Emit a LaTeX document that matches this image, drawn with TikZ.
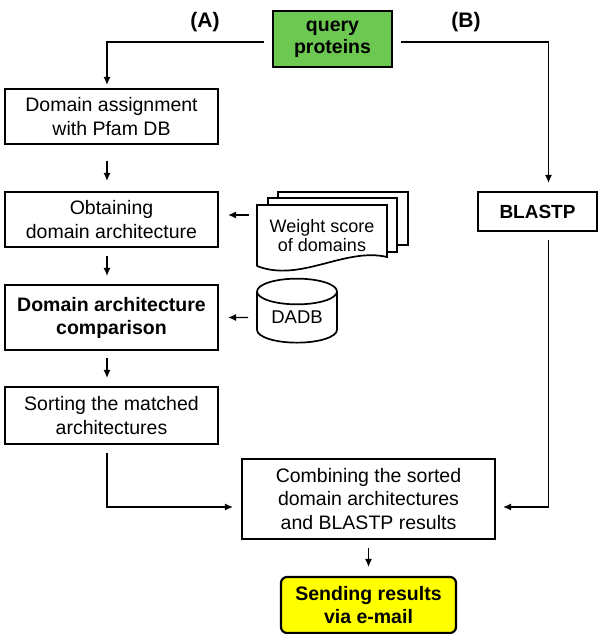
\documentclass[tikz,border=0pt]{standalone}
\usepackage{fontspec}
\setmainfont{Liberation Sans}
\usetikzlibrary{arrows.meta,shapes.geometric}
\definecolor{querygreen}{RGB}{108,200,80}
\definecolor{sendyellow}{RGB}{255,255,0}

\tikzset{
  procbox/.style={draw, line width=2.2pt, align=center, inner sep=0pt,
    minimum width=213pt, minimum height=55pt,
    font=\fontsize{19.5}{23.5}\selectfont},
  boldbox/.style={procbox, font=\fontsize{19.5}{23}\selectfont\bfseries},
  arr/.style={-{Latex[length=8pt,width=7pt]}, line width=1.2pt},
  sheet/.style={draw, fill=white, line width=1.7pt},
}

\begin{document}
\begin{tikzpicture}[x=1pt,y=-1pt]
      \useasboundingbox (0,0) rectangle (600,634);

      \node[font=\fontsize{21}{21}\selectfont\bfseries] (labA) at (205,22) {(A)};
      \node[font=\fontsize{21}{21}\selectfont\bfseries] (labB) at (466,22) {(B)};

      \node[boldbox, fill=querygreen, minimum width=119pt, minimum height=56pt,
        font=\fontsize{19.5}{22}\selectfont\bfseries] (query) at (332.5,39) {query\\proteins};

      \node[procbox] (assign) at (111.5,116.5) {Domain assignment\\with Pfam DB};
      \node[procbox] (obtain) at (111.5,219.5) {Obtaining\\domain architecture};
      \node[boldbox, minimum height=65pt] (compare) at (111.5,317.5)
        {Domain architecture\\comparison};
      \node[procbox, minimum height=57pt] (sorting) at (111.5,415.5)
        {Sorting the matched\\architectures};

      \node[boldbox, minimum width=119pt, minimum height=39pt,
        font=\fontsize{19}{19}\selectfont\bfseries] (blastp) at (537.5,211.5) {BLASTP};

      \node[procbox, minimum width=253pt, minimum height=80pt] (combine) at (368.5,499)
        {Combining the sorted\\domain architectures\\and BLASTP results};
      \node[boldbox, fill=sendyellow, rounded corners=6pt, minimum width=175pt,
        minimum height=56pt, font=\fontsize{19.5}{23}\selectfont\bfseries] (send)
        at (368.5,605) {Sending results\\via e-mail};

      % stacked sheets
      \draw[sheet] (278,192) rectangle (408,245);
      \draw[sheet] (268,198) rectangle (397,252);
      \draw[sheet] (257,266) -- (257,205) -- (387,205) -- (387,257)
        .. controls (345,247) and (300,283) .. (257,266);
      \node[align=center, inner sep=0pt, minimum width=130pt,
        font=\fontsize{18}{19}\selectfont] (weight) at (322,236) {Weight score\\of domains};

      \node[cylinder, shape border rotate=90, aspect=0.5, draw, line width=1.7pt,
        minimum width=80pt, minimum height=64pt, inner sep=0pt,
        font=\fontsize{18.5}{18.5}\selectfont] (dadb) at (297,317.5)
        {\raisebox{-5pt}{DADB}};

      \draw[arr, shorten <=8pt, shorten >=3pt] ([yshift=-3pt]query.west)
        -| ([xshift=-4.5pt]assign.north);
      \draw[arr, shorten <=8pt, shorten >=8pt] ([yshift=-3pt]query.east)
        -| ([xshift=11pt]blastp.north);

      \draw[arr, shorten <=16pt, shorten >=10pt] ([xshift=-4.5pt]assign.south)
        -- ([xshift=-4.5pt]obtain.north);
      \draw[arr, shorten <=8pt, shorten >=8pt] ([xshift=-4.5pt]obtain.south)
        -- ([xshift=-4.5pt]compare.north);
      \draw[arr, shorten <=7pt, shorten >=8pt] ([xshift=-4.5pt]compare.south)
        -- ([xshift=-4.5pt]sorting.north);

      \draw[arr, shorten <=8pt, shorten >=9pt] ([yshift=21pt]weight.west)
        -- ([yshift=21pt]weight.west -| obtain.east);
      \draw[arr, shorten <=8pt, shorten >=9pt] (dadb) -- (compare);

      \draw[arr, shorten <=8pt, shorten >=8pt] ([xshift=-4.5pt]sorting.south)
        |- ([yshift=-8pt]combine.west);
      \draw[arr, shorten <=8pt, shorten >=7pt] ([xshift=11pt]blastp.south)
        |- ([yshift=-8pt]combine.east);
      \draw[arr, shorten <=8pt, shorten >=9pt] (combine) -- (send);
\end{tikzpicture}
\end{document}
